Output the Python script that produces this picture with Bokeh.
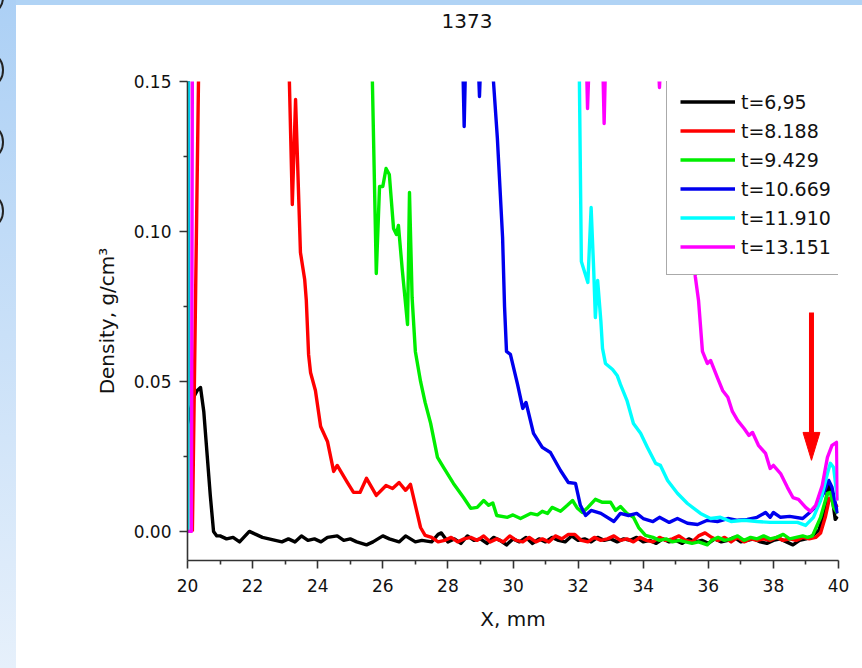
from bokeh.plotting import figure
from bokeh.models import Range1d, Legend, LegendItem, FixedTicker, NumeralTickFormatter, Div
from bokeh.layouts import row, column
from bokeh.embed import file_html
from bokeh.resources import INLINE

title_text = "1373"
x_label = "X, mm"
y_label = "Density, g/cm³"
x_ticks = [20, 22, 24, 26, 28, 30, 32, 34, 36, 38, 40]
x_minor = [21, 23, 25, 27, 29, 31, 33, 35, 37, 39]
y_ticks = [0.0, 0.05, 0.10, 0.15]
y_minor = [0.025, 0.075, 0.125]
series_labels = ["t=6,95", "t=8.188", "t=9.429", "t=10.669", "t=11.910", "t=13.151"]
series_colors = ["#000000", "#ff0000", "#00ee00", "#0000ee", "#00ffff", "#ff00ff"]

x_black = [20.0, 20.1, 20.2, 20.3, 20.4, 20.5, 20.6, 20.7, 20.8, 20.9, 21.0, 21.2, 21.4, 21.6, 21.9,
           22.1, 22.3, 22.5, 22.7, 22.9, 23.1, 23.3, 23.5, 23.7, 23.9, 24.1, 24.3, 24.6, 24.8, 25.0,
           25.2, 25.5, 25.7, 26.0, 26.2, 26.5, 26.7, 27.0, 27.2, 27.5, 27.7, 27.8, 28.0, 28.2, 28.4,
           28.6, 28.8, 29.0, 29.2, 29.4, 29.6, 29.8, 30.0, 30.2, 30.4, 30.6, 30.8, 31.0, 31.2, 31.4,
           31.6, 31.8, 32.0, 32.2, 32.4, 32.6, 32.8, 33.0, 33.2, 33.4, 33.6, 33.8, 34.0, 34.2, 34.4,
           34.6, 34.8, 35.0, 35.2, 35.4, 35.6, 35.8, 36.0, 36.2, 36.4, 36.6, 36.8, 37.0, 37.2, 37.4,
           37.6, 37.8, 38.0, 38.2, 38.4, 38.6, 38.8, 39.0, 39.2, 39.4, 39.55, 39.7, 39.8, 39.9, 39.97]
y_black = [0.036, 0.041, 0.045, 0.047, 0.048, 0.040, 0.026, 0.012, 0.000, -0.0015, -0.0015, -0.0025, -0.002, -0.0035, 0.0,
           -0.001, -0.002, -0.0025, -0.003, -0.0035, -0.0025, -0.0035, -0.0015, -0.003, -0.0025, -0.0035, -0.002, -0.0015, -0.003, -0.0025,
           -0.0035, -0.0045, -0.0035, -0.0015, -0.0025, -0.0035, -0.0015, -0.0035, -0.003, -0.0035, -0.001, -0.0005, -0.0035, -0.0025, -0.004,
           -0.0015, -0.003, -0.0025, -0.004, -0.002, -0.003, -0.0045, -0.0025, -0.0035, -0.002, -0.004, -0.0025, -0.0035, -0.002, -0.003,
           -0.0035, -0.0015, -0.003, -0.0025, -0.0035, -0.002, -0.003, -0.0025, -0.0035, -0.0025, -0.003, -0.002, -0.0035, -0.003, -0.004,
           -0.0025, -0.0035, -0.003, -0.004, -0.0025, -0.0035, -0.003, -0.004, -0.0025, -0.0035, -0.003, -0.002, -0.0035, -0.003, -0.0025,
           -0.0035, -0.004, -0.003, -0.0025, -0.0035, -0.0045, -0.003, -0.0025, -0.0015, 0.0005, 0.006, 0.016, 0.012, 0.004, 0.005]

x_red = [20.15, 20.25, 20.35, 23.1, 23.13, 23.22, 23.32, 23.47, 23.6, 23.65, 23.72, 23.78, 23.93, 24.09, 24.3,
         24.49, 24.6, 24.9, 25.1, 25.3, 25.5, 25.8, 26.1, 26.3, 26.5, 26.7, 26.85, 27.16, 27.3, 27.5,
         27.7, 27.9, 28.1, 28.3, 28.5, 28.7, 28.9, 29.1, 29.3, 29.5, 29.7, 29.9, 30.1, 30.3, 30.5,
         30.7, 30.9, 31.1, 31.3, 31.5, 31.7, 31.9, 32.1, 32.3, 32.5, 32.7, 32.9, 33.1, 33.3, 33.5,
         33.7, 33.9, 34.1, 34.3, 34.5, 34.7, 34.9, 35.1, 35.3, 35.5, 35.7, 35.9, 36.1, 36.3, 36.5,
         36.7, 36.9, 37.1, 37.3, 37.5, 37.7, 37.9, 38.1, 38.3, 38.5, 38.7, 38.9, 39.1, 39.3, 39.45,
         39.6, 39.72, 39.85, 39.97]
y_red = [0.0, 0.08, 0.16, 0.16, 0.15, 0.109, 0.144, 0.093, 0.084, 0.077, 0.059, 0.053, 0.047, 0.035, 0.030,
         0.020, 0.022, 0.0165, 0.013, 0.013, 0.0177, 0.012, 0.0153, 0.0143, 0.0163, 0.0137, 0.0157, 0.0013, -0.0013, -0.002,
         -0.0035, -0.003, -0.002, -0.0035, -0.0025, -0.002, -0.003, -0.0015, -0.0035, -0.0025, -0.0035, -0.0015, -0.003, -0.0035, -0.002,
         -0.0035, -0.0025, -0.0035, -0.0015, -0.0025, -0.001, -0.001, -0.003, -0.0035, -0.002, -0.003, -0.0025, -0.0015, -0.003, -0.0025,
         -0.0035, -0.002, -0.003, -0.0035, -0.002, -0.003, -0.0025, -0.0015, -0.003, -0.0035, -0.0015, -0.0005, -0.002, -0.003, -0.002,
         -0.0035, -0.002, -0.0035, -0.0025, -0.003, -0.0025, -0.003, -0.002, -0.003, -0.0025, -0.003, -0.002, -0.0025, -0.002, -0.0005,
         0.005, 0.011, 0.010, 0.008]

x_green = [20.0, 20.03, 25.6, 25.68, 25.8, 25.9, 26.0, 26.1, 26.2, 26.33, 26.42, 26.48, 26.6, 26.76, 26.82,
           26.9, 27.0, 27.16, 27.3, 27.47, 27.68, 27.87, 28.17, 28.48, 28.7, 28.9, 29.1, 29.25, 29.38, 29.5,
           29.83, 30.0, 30.23, 30.54, 30.75, 30.9, 31.06, 31.2, 31.46, 31.67, 31.83, 31.98, 32.13, 32.3, 32.53,
           32.75, 33.0, 33.15, 33.3, 33.5, 33.7, 33.86, 34.07, 34.3, 34.5, 34.7, 34.9, 35.1, 35.3, 35.5,
           35.7, 35.97, 36.1, 36.3, 36.5, 36.7, 36.9, 37.1, 37.3, 37.5, 37.7, 37.9, 38.1, 38.3, 38.5,
           38.7, 38.9, 39.05, 39.2, 39.45, 39.66, 39.75, 39.85, 39.97]
y_green = [0.0, 0.16, 0.16, 0.15, 0.086, 0.115, 0.115, 0.121, 0.119, 0.101, 0.099, 0.102, 0.087, 0.069, 0.113,
           0.078, 0.060, 0.050, 0.043, 0.036, 0.0247, 0.0213, 0.016, 0.0113, 0.0077, 0.008, 0.0103, 0.0087, 0.0095, 0.0053,
           0.0047, 0.0055, 0.0043, 0.006, 0.0055, 0.0067, 0.006, 0.008, 0.0067, 0.0087, 0.0103, 0.0077, 0.0063, 0.008, 0.0107,
           0.0097, 0.0097, 0.007, 0.0083, 0.006, 0.0047, 0.0013, -0.0013, -0.002, -0.003, -0.0025, -0.0035, -0.003, -0.0035, -0.004,
           -0.0035, -0.0045, -0.003, -0.002, -0.003, -0.0025, -0.0015, -0.003, -0.002, -0.0025, -0.0015, -0.0025, -0.002, -0.001, -0.0025,
           -0.002, -0.0015, -0.002, -0.0015, 0.0047, 0.0127, 0.013, 0.008, 0.006]

x_blue = [20.0, 20.03, 28.45, 28.5, 28.55, 28.92, 28.97, 29.02, 29.38, 29.4, 29.52, 29.68, 29.74, 29.8, 29.92,
          30.14, 30.3, 30.4, 30.63, 30.9, 31.15, 31.46, 31.7, 31.92, 32.07, 32.23, 32.4, 32.7, 33.1, 33.3,
          33.55, 33.8, 34.0, 34.3, 34.5, 34.8, 35.05, 35.36, 35.67, 35.97, 36.28, 36.6, 36.9, 37.2, 37.5,
          37.76, 37.9, 38.0, 38.22, 38.5, 38.9, 39.08, 39.35, 39.54, 39.7, 39.8, 39.97]
y_blue = [0.0, 0.16, 0.16, 0.135, 0.16, 0.16, 0.145, 0.16, 0.16, 0.15, 0.131, 0.098, 0.075, 0.060, 0.059,
          0.049, 0.041, 0.043, 0.0327, 0.028, 0.0263, 0.0203, 0.0163, 0.016, 0.0087, 0.0053, 0.007, 0.006, 0.0033, 0.006,
          0.0053, 0.006, 0.0043, 0.0033, 0.0047, 0.003, 0.0043, 0.0027, 0.0023, 0.0037, 0.0033, 0.0043, 0.0037, 0.004, 0.0047,
          0.0063, 0.0047, 0.0063, 0.0047, 0.005, 0.0043, 0.006, 0.0087, 0.0127, 0.017, 0.0147, 0.006]

x_cyan = [20.0, 20.02, 32.0, 32.04, 32.1, 32.3, 32.4, 32.48, 32.53, 32.6, 32.7, 32.75, 32.84, 33.06, 33.2,
          33.3, 33.5, 33.7, 33.92, 34.13, 34.38, 34.53, 34.75, 35.05, 35.36, 35.76, 36.07, 36.37, 36.7, 37.1,
          37.5, 37.9, 38.3, 38.74, 38.99, 39.23, 39.45, 39.66, 39.75, 39.85, 39.97]
y_cyan = [0.0, 0.16, 0.16, 0.15, 0.090, 0.083, 0.108, 0.087, 0.0713, 0.0837, 0.070, 0.061, 0.056, 0.054, 0.052,
          0.049, 0.0437, 0.036, 0.0327, 0.028, 0.0227, 0.022, 0.017, 0.0127, 0.0093, 0.006, 0.0043, 0.0047, 0.0033, 0.0037,
          0.0033, 0.003, 0.003, 0.003, 0.002, 0.0047, 0.0103, 0.0193, 0.0227, 0.0213, 0.0103]

x_magenta = [20.0, 20.12, 20.15, 32.25, 32.29, 32.35, 32.75, 32.8, 32.85, 34.45, 34.5, 34.55, 35.1, 35.4, 35.6,
             35.7, 35.82, 35.97, 36.07, 36.28, 36.44, 36.6, 36.74, 36.9, 37.1, 37.25, 37.36, 37.54, 37.76, 37.9,
             38.0, 38.22, 38.43, 38.6, 38.77, 38.99, 39.14, 39.3, 39.5, 39.66, 39.8, 39.94, 39.97]
y_magenta = [0.0, 0.0, 0.16, 0.16, 0.141, 0.16, 0.16, 0.136, 0.16, 0.16, 0.148, 0.16, 0.16, 0.11, 0.085,
             0.077, 0.060, 0.056, 0.057, 0.0513, 0.047, 0.0447, 0.040, 0.037, 0.0343, 0.032, 0.033, 0.0287, 0.026, 0.021,
             0.022, 0.0193, 0.0147, 0.0113, 0.0107, 0.008, 0.0067, 0.0087, 0.0153, 0.0247, 0.0287, 0.0297, 0.0103]

series_x = [x_black, x_red, x_green, x_blue, x_cyan, x_magenta]
series_y = [y_black, y_red, y_green, y_blue, y_cyan, y_magenta]

# red arrow annotation (data units)
arrow_x = 39.17
arrow_y_top = 0.073
arrow_y_tip = 0.0237
arrow_head_half = 0.26
arrow_head_len = 0.0093

FONT = "DejaVu Sans"

p = figure(width=846, height=599, output_backend="svg", toolbar_location=None,
           x_range=Range1d(20, 40), y_range=Range1d(-0.0097, 0.15),
           min_border_left=171, min_border_right=24, min_border_top=12, min_border_bottom=108)
p.border_fill_color = "white"
p.background_fill_color = "white"
p.outline_line_color = None
p.grid.visible = False

for ax in (p.xaxis[0], p.yaxis[0]):
    ax.axis_line_color = "#333333"
    ax.axis_line_width = 1.6
    ax.major_tick_line_color = "#333333"
    ax.minor_tick_line_color = "#333333"
    ax.major_tick_line_width = 1.6
    ax.minor_tick_line_width = 1.6
    ax.major_tick_in = 0
    ax.major_tick_out = 8
    ax.minor_tick_in = 0
    ax.minor_tick_out = 4
    ax.major_label_text_font = FONT
    ax.major_label_text_font_size = "17px"
    ax.major_label_text_color = "#111111"
    ax.axis_label_text_font = FONT
    ax.axis_label_text_font_size = "20px"
    ax.axis_label_text_font_style = "normal"
    ax.axis_label_text_color = "#111111"

p.xaxis.ticker = FixedTicker(ticks=x_ticks, minor_ticks=x_minor)
p.yaxis.ticker = FixedTicker(ticks=y_ticks, minor_ticks=y_minor)
p.yaxis.formatter = NumeralTickFormatter(format="0.00")
p.xaxis.axis_label = x_label
p.yaxis.axis_label = y_label
p.xaxis.major_label_standoff = 10
p.yaxis.major_label_standoff = 8
p.xaxis.axis_label_standoff = 12
p.yaxis.axis_label_standoff = 12

items = []
for xs, ys, c, lab in zip(series_x, series_y, series_colors, series_labels):
    r = p.line(xs, ys, line_color=c, line_width=3.4, line_join="round")
    items.append(LegendItem(label=lab, renderers=[r]))

# arrow
p.segment(x0=[arrow_x], y0=[arrow_y_top], x1=[arrow_x], y1=[arrow_y_tip + arrow_head_len],
          line_color="#ff0000", line_width=5)
p.patch([arrow_x - arrow_head_half, arrow_x + arrow_head_half, arrow_x],
        [arrow_y_tip + arrow_head_len, arrow_y_tip + arrow_head_len, arrow_y_tip],
        fill_color="#ff0000", line_color="#ff0000", line_width=1)

legend = Legend(items=items, location=(479, 285), orientation="vertical",
                label_text_font=FONT, label_text_font_size="19px", label_text_color="#111111",
                glyph_width=55, glyph_height=29, label_height=29, spacing=0, padding=13,
                label_standoff=6, margin=0,
                border_line_color="#555555", border_line_width=1.5,
                background_fill_color="white", background_fill_alpha=1.0)
p.add_layout(legend, "center")

# slide background pieces: blue strips, cut-off "0" outlines at the left edge, title
ring = ('<div style="position:absolute;left:-16px;top:{top}px;width:20px;height:30px;'
        'border:2px solid #222;border-radius:50%;"></div>')
rings = "".join(ring.format(top=t) for t in (-18, 55, 127, 196))
left_html = ('<div style="position:relative;width:16px;height:668px;overflow:hidden;'
             'background:linear-gradient(#acd0f5,#e6f0fb);">' + rings + '</div>')
left_div = Div(text=left_html, width=16, height=668, margin=0)

top_html = ('<div style="position:relative;width:846px;height:69px;background:white;">'
            '<div style="position:absolute;left:0;top:0;width:846px;height:5px;background:#b0d3f5;"></div>'
            '<div style="position:absolute;left:451px;top:11px;transform:translateX(-50%);'
            'font-family:\'DejaVu Sans\';font-size:20px;line-height:20px;color:#111;white-space:nowrap;">'
            + title_text + '</div></div>')
top_div = Div(text=top_html, width=846, height=69, margin=0)

layout = row(left_div, column(top_div, p, spacing=0, margin=0), spacing=0, margin=0)

open("out.html", "w").write(file_html(layout, INLINE))
